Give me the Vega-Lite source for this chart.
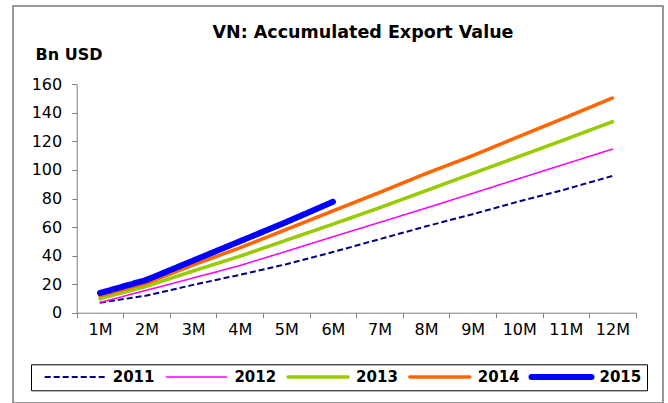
{
  "$schema": "https://vega.github.io/schema/vega-lite/v6.json",
  "width": 650,
  "height": 397,
  "autosize": {"type": "none"},
  "padding": {"left": 13, "top": 6, "right": 5, "bottom": 0},
  "background": "white",
  "config": {
    "view": {"stroke": "#7a7a7a", "strokeWidth": 1.5, "fill": "white"},
    "font": "DejaVu Sans"
  },
  "title": {
    "text": "VN: Accumulated Export Value",
    "anchor": "middle",
    "frame": "group",
    "orient": "top",
    "offset": -49,
    "baseline": "alphabetic",
    "dx": 25,
    "font": "DejaVu Sans",
    "fontSize": 17.5,
    "fontWeight": "bold",
    "color": "black"
  },
  "data": {
    "values": [
      {"month": "1M", "year": "2011", "value": 7.0},
      {"month": "2M", "year": "2011", "value": 12.0},
      {"month": "3M", "year": "2011", "value": 19.5},
      {"month": "4M", "year": "2011", "value": 26.5},
      {"month": "5M", "year": "2011", "value": 34.0},
      {"month": "6M", "year": "2011", "value": 42.5},
      {"month": "7M", "year": "2011", "value": 51.5},
      {"month": "8M", "year": "2011", "value": 60.5},
      {"month": "9M", "year": "2011", "value": 69.0},
      {"month": "10M", "year": "2011", "value": 78.0},
      {"month": "11M", "year": "2011", "value": 86.5},
      {"month": "12M", "year": "2011", "value": 95.8},
      {"month": "1M", "year": "2012", "value": 7.1},
      {"month": "2M", "year": "2012", "value": 15.8},
      {"month": "3M", "year": "2012", "value": 24.3},
      {"month": "4M", "year": "2012", "value": 33.0},
      {"month": "5M", "year": "2012", "value": 43.0},
      {"month": "6M", "year": "2012", "value": 53.2},
      {"month": "7M", "year": "2012", "value": 63.2},
      {"month": "8M", "year": "2012", "value": 73.3},
      {"month": "9M", "year": "2012", "value": 83.6},
      {"month": "10M", "year": "2012", "value": 94.0},
      {"month": "11M", "year": "2012", "value": 104.3},
      {"month": "12M", "year": "2012", "value": 114.6},
      {"month": "1M", "year": "2013", "value": 9.8},
      {"month": "2M", "year": "2013", "value": 18.5},
      {"month": "3M", "year": "2013", "value": 29.2},
      {"month": "4M", "year": "2013", "value": 39.5},
      {"month": "5M", "year": "2013", "value": 50.8},
      {"month": "6M", "year": "2013", "value": 62.0},
      {"month": "7M", "year": "2013", "value": 73.5},
      {"month": "8M", "year": "2013", "value": 85.5},
      {"month": "9M", "year": "2013", "value": 97.5},
      {"month": "10M", "year": "2013", "value": 109.5},
      {"month": "11M", "year": "2013", "value": 121.5},
      {"month": "12M", "year": "2013", "value": 133.8},
      {"month": "1M", "year": "2014", "value": 11.8},
      {"month": "2M", "year": "2014", "value": 20.7},
      {"month": "3M", "year": "2014", "value": 33.4},
      {"month": "4M", "year": "2014", "value": 45.4},
      {"month": "5M", "year": "2014", "value": 58.3},
      {"month": "6M", "year": "2014", "value": 71.3},
      {"month": "7M", "year": "2014", "value": 84.2},
      {"month": "8M", "year": "2014", "value": 97.5},
      {"month": "9M", "year": "2014", "value": 110.0},
      {"month": "10M", "year": "2014", "value": 123.5},
      {"month": "11M", "year": "2014", "value": 136.8},
      {"month": "12M", "year": "2014", "value": 150.4},
      {"month": "1M", "year": "2015", "value": 13.8},
      {"month": "2M", "year": "2015", "value": 23.0},
      {"month": "3M", "year": "2015", "value": 36.5},
      {"month": "4M", "year": "2015", "value": 50.0},
      {"month": "5M", "year": "2015", "value": 63.5},
      {"month": "6M", "year": "2015", "value": 77.7}
    ]
  },
  "encoding": {
    "x": {
      "field": "month",
      "type": "nominal",
      "sort": ["1M", "2M", "3M", "4M", "5M", "6M", "7M", "8M", "9M", "10M", "11M", "12M"],
      "scale": {"type": "band", "paddingInner": 0, "paddingOuter": 0, "range": [63.7, 622.7]},
      "axis": {
        "orient": "bottom",
        "offset": -90.3,
        "title": null,
        "tickBand": "extent",
        "tickSize": 5,
        "tickColor": "#808080",
        "domainColor": "#808080",
        "labelAngle": 0,
        "labelPadding": 4,
        "labelFont": "DejaVu Sans",
        "labelFontSize": 16,
        "labelColor": "black",
        "labelOverlap": false,
        "grid": false
      }
    },
    "y": {
      "field": "value",
      "type": "quantitative",
      "scale": {"domain": [0, 160], "range": [306.7, 78.3], "nice": false},
      "axis": {
        "orient": "left",
        "offset": -63.7,
        "values": [0, 20, 40, 60, 80, 100, 120, 140, 160],
        "tickSize": 5,
        "tickColor": "#808080",
        "domainColor": "#808080",
        "labelPadding": 10,
        "labelFont": "DejaVu Sans",
        "labelFontSize": 16,
        "labelColor": "black",
        "grid": false,
        "title": "Bn USD",
        "titleAngle": 0,
        "titleAlign": "left",
        "titleBaseline": "alphabetic",
        "titleX": -41.7,
        "titleY": 53,
        "titleFont": "DejaVu Sans",
        "titleFontSize": 16,
        "titleFontWeight": "bold",
        "titleColor": "black"
      }
    },
    "color": {
      "field": "year",
      "type": "nominal",
      "scale": {"domain": ["2011", "2012", "2013", "2014", "2015"], "range": ["#000080", "#ff00ff", "#99cc00", "#ff6600", "#0000ff"]},
      "legend": {
        "title": null,
        "orient": "none",
        "legendX": 18,
        "legendY": 358.3,
        "direction": "horizontal",
        "columns": 5,
        "symbolType": "stroke",
        "symbolSize": 3600,
        "clipHeight": 15,
        "padding": 5,
        "strokeColor": "black",
        "fillColor": "white",
        "symbolOffset": 7.7,
        "labelOffset": 7,
        "columnPadding": 2.7,
        "labelFont": "DejaVu Sans",
        "labelFontWeight": "bold",
        "labelFontSize": 15,
        "labelColor": "black",
        "labelLimit": 100,
        "encode": {"symbols": {"update": {
          "strokeCap": {"signal": "(datum.value === '2011' ? 'butt' : 'round')"},
          "strokeWidth": {"signal": "(datum.value === '2015' ? 6 : ((datum.value === '2013' || datum.value === '2014') ? 3.5 : (datum.value === '2011' ? 2 : 1.5)))"}
        }}}
      }
    },
    "strokeDash": {
      "field": "year",
      "type": "nominal",
      "scale": {"domain": ["2011", "2012", "2013", "2014", "2015"], "range": [[6, 3], [1, 0], [1, 0], [1, 0], [1, 0]]},
      "legend": {
        "title": null,
        "orient": "none",
        "legendX": 18,
        "legendY": 358.3,
        "direction": "horizontal",
        "columns": 5,
        "symbolType": "stroke",
        "symbolSize": 3600,
        "clipHeight": 15,
        "padding": 5,
        "strokeColor": "black",
        "fillColor": "white",
        "symbolOffset": 7.7,
        "labelOffset": 7,
        "columnPadding": 2.7,
        "labelFont": "DejaVu Sans",
        "labelFontWeight": "bold",
        "labelFontSize": 15,
        "labelColor": "black",
        "labelLimit": 100,
        "encode": {"symbols": {"update": {
          "strokeCap": {"signal": "(datum.value === '2011' ? 'butt' : 'round')"},
          "strokeWidth": {"signal": "(datum.value === '2015' ? 6 : ((datum.value === '2013' || datum.value === '2014') ? 3.5 : (datum.value === '2011' ? 2 : 1.5)))"}
        }}}
      }
    }
  },
  "layer": [
    {
      "transform": [{"filter": "datum.year == '2011'"}],
      "mark": {"type": "line", "strokeCap": "butt", "strokeJoin": "round", "strokeWidth": 2}
    },
    {
      "transform": [{"filter": "datum.year == '2012'"}],
      "mark": {"type": "line", "strokeCap": "round", "strokeJoin": "round", "strokeWidth": 1.5}
    },
    {
      "transform": [{"filter": "datum.year == '2013' || datum.year == '2014'"}],
      "mark": {"type": "line", "strokeCap": "round", "strokeJoin": "round", "strokeWidth": 3.5}
    },
    {
      "transform": [{"filter": "datum.year == '2015'"}],
      "mark": {"type": "line", "strokeCap": "round", "strokeJoin": "round", "strokeWidth": 6}
    }
  ]
}
